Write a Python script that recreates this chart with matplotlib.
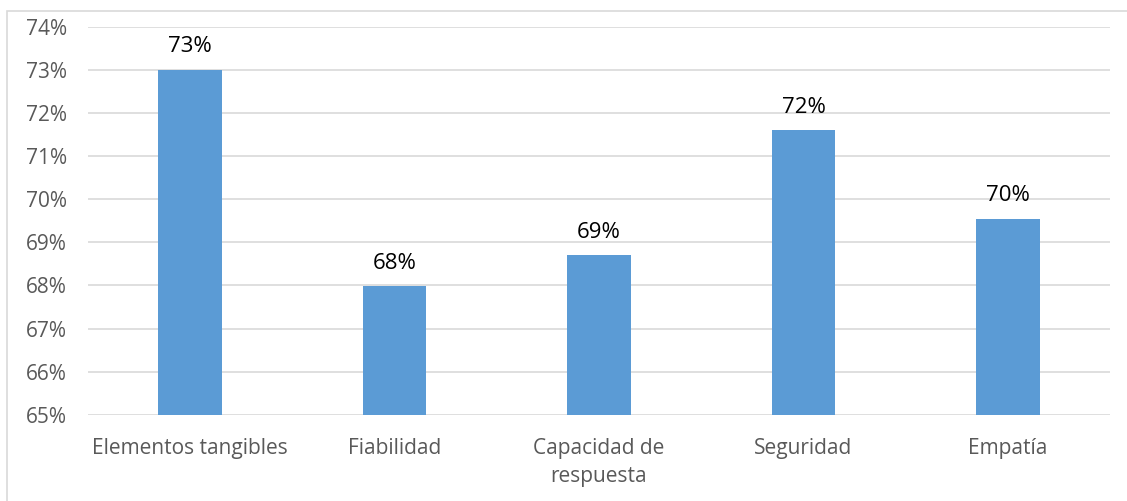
import matplotlib
matplotlib.use("Agg")
import matplotlib.pyplot as plt
from matplotlib.patches import Rectangle
from matplotlib.ticker import FuncFormatter

categories = ["Elementos tangibles", "Fiabilidad", "Capacidad de\nrespuesta", "Seguridad", "Empatía"]
values = [73.0, 67.98, 68.7, 71.6, 69.55]
y_ticks = [65, 66, 67, 68, 69, 70, 71, 72, 73, 74]

plt.rcParams['font.family'] = ['Open Sans', 'DejaVu Sans']

fig = plt.figure(figsize=(11.27, 5.01), dpi=100)
ax = fig.add_axes([0.078, 0.172, 0.907, 0.775])

# outer chart frame
fig.patches.append(Rectangle((7 / 1127, -0.1), 1.2, 1 - 11 / 501 + 0.1,
                             transform=fig.transFigure, fill=False,
                             edgecolor="#d9d9d9", linewidth=1.2))

x = list(range(len(categories)))
ax.bar(x, values, width=0.31, color="#5b9bd5", bottom=0, zorder=3)
ax.set_ylim(65, 74)
ax.set_xlim(-0.5, len(categories) - 0.5)
ax.set_yticks(y_ticks)
ax.yaxis.set_major_formatter(FuncFormatter(lambda v, p: f"{v:.0f}%"))
ax.grid(axis="y", color="#d9d9d9", linewidth=1.2, zorder=0)
for s in ax.spines.values():
    s.set_visible(False)
ax.tick_params(axis="both", length=0, labelsize=15, colors="#595959")
ax.tick_params(axis="x", pad=17)
ax.tick_params(axis="y", pad=15)
ax.set_xticks(x)
ax.set_xticklabels(categories, linespacing=1.4)

for xi, v in zip(x, values):
    ax.annotate(f"{v:.0f}%", (xi, v), xytext=(0, 9), textcoords="offset points",
                ha="center", va="bottom", fontsize=16, color="#000000")

fig.savefig("out.png", dpi=100)
